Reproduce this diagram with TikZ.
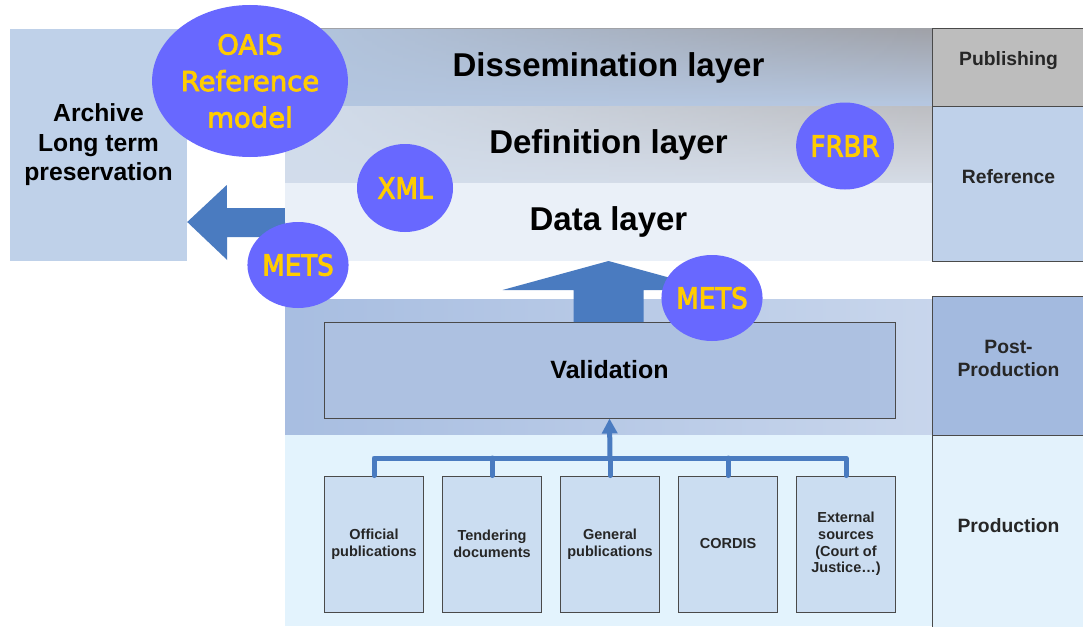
\documentclass[tikz,border=0pt]{standalone}
\usepackage{fontspec}
\setmainfont{Liberation Sans}
\newfontfamily\circfont[FakeBold=3]{DejaVu Sans}
\newfontfamily\circcfont[FakeBold=3]{DejaVu Sans Condensed}
\usetikzlibrary{arrows.meta,shapes.geometric,fadings}
\definecolor{circblue}{HTML}{6868FF}
\definecolor{circtext}{HTML}{FFCC00}
\definecolor{archivebg}{HTML}{BFD1E9}
\definecolor{databg}{HTML}{EAF0F8}
\definecolor{prodbg}{HTML}{E3F3FD}
\definecolor{valbg}{HTML}{ADC1E1}
\definecolor{srcbg}{HTML}{CBDDF1}
\definecolor{pubbg}{HTML}{BDBDBD}
\definecolor{refbg}{HTML}{BFD1EA}
\definecolor{ppbg}{HTML}{A3BADF}
\definecolor{prodlbg}{HTML}{E3F2FC}
\definecolor{arrowblue}{HTML}{4A7BC0}
\definecolor{edge}{HTML}{4A4A4A}
\definecolor{dissleft}{HTML}{B3C6E0}
\definecolor{disstop}{HTML}{A0A2A8}
\definecolor{dissbot}{HTML}{B7C8E2}
\definecolor{defleft}{HTML}{D2DDEC}
\definecolor{deftop}{HTML}{BDBEC2}
\definecolor{defbot}{HTML}{D6DCE6}
\begin{document}
\begin{tikzpicture}[x=1pt,y=-1pt,
  band/.style={rectangle,inner sep=0pt,minimum width=647pt,font=\fontsize{33}{38}\selectfont\bfseries},
  colbox/.style={rectangle,draw=edge,line width=1pt,inner sep=0pt,minimum width=153pt},
  coltext/.style={align=center,font=\fontsize{19.3}{23}\selectfont\bfseries,text=black!85},
  srcbox/.style={rectangle,draw=edge,line width=0.9pt,fill=srcbg,inner sep=0pt,minimum width=99pt,minimum height=136pt,align=center,font=\fontsize{14.5}{16.8}\selectfont\bfseries,text=black!85},
  circ/.style={ellipse,fill=circblue,inner sep=0pt,align=center,text=circtext},
  bigcirc/.style={circ,font=\circfont\fontsize{27.5}{36.5}\selectfont},
  smallcirc/.style={circ,font=\circcfont\fontsize{29}{32}\selectfont},
  fatarrow/.style={fill=arrowblue},
  tree/.style={draw=arrowblue,line width=5pt,line cap=round,line join=round}
]
\useasboundingbox (0,0) rectangle (1083,626);
\fill[white] (0,0) rectangle (1083,626);

% layer band backgrounds (two-way gradients)
\shade[top color=disstop,bottom color=dissbot] (285,29) rectangle (932,106);
\fill[dissleft,path fading=east] (285,29) rectangle (932,106);
\shade[top color=deftop,bottom color=defbot] (285,106) rectangle (932,183);
\fill[defleft,path fading=east] (285,106) rectangle (932,183);

% layer bands
\node[band,minimum height=77pt] (diss) at (608.5,67.5) {Dissemination layer};
\node[band,minimum height=77pt] (defn) at (608.5,144.5) {Definition layer};
\node[band,minimum height=78pt,fill=databg] (data) at (608.5,222) {Data layer};
\node[band,minimum height=136pt,left color=ppbg!95!white,middle color=valbg!65!white,right color=ppbg!60!white] (post) at (608.5,367) {};
\node[band,minimum height=191pt,fill=prodbg] (prod) at (608.5,530.5) {};

% archive
\node[rectangle,fill=archivebg,inner sep=0pt,minimum width=177pt,minimum height=232pt,align=center,
  font=\fontsize{24.7}{29.5}\selectfont\bfseries] (archive) at (98.5,145) {Archive\\Long term\\preservation};

% right column
\node[colbox,fill=pubbg,minimum height=77pt] (pub) at (1008.5,67.5) {};
\node[colbox,fill=refbg,minimum height=155pt] (ref) at (1008.5,183.5) {};
\node[colbox,fill=ppbg,minimum height=139pt] (pp) at (1008.5,365.5) {};
\node[colbox,fill=prodlbg,minimum height=193pt] (prodl) at (1008.5,531.5) {};
\node[coltext,yshift=7pt] (pubt) at (pub) {Publishing};
\node[coltext,yshift=7pt] (reft) at (ref) {Reference};
\node[coltext,yshift=7pt] (ppt) at (pp) {Post-\\Production};
\node[coltext,yshift=6pt] (prodt) at (prodl) {Production};

% validation and sources
\node[rectangle,draw=edge,line width=1pt,fill=valbg,inner sep=0pt,minimum width=571pt,minimum height=96pt,
  font=\fontsize{25}{29}\selectfont\bfseries] (val) at (609.5,370) {Validation};
\node[srcbox] (s1) at (374,544) {Official\\publications};
\node[srcbox] (s2) at (492,544) {Tendering\\documents};
\node[srcbox] (s3) at (610,544) {General\\publications};
\node[srcbox] (s4) at (728,544) {CORDIS};
\node[srcbox] (s5) at (846,544) {External\\sources\\(Court of\\Justice…)};

% tree connectors
\coordinate (hb) at (610,458);
\draw[tree] (s1.north) |- (hb) -| (s5.north);
\draw[tree] (s2.north) -- (s2.north |- hb);
\draw[tree] (s3.north) -- (hb);
\draw[tree] (s4.north) -- (s4.north |- hb);
\draw[tree,line cap=butt,-{Triangle[length=15pt,width=15pt]}] (hb) -- (val.south);

% fat arrow to archive
\fill[fatarrow] ([yshift=14pt]data.west) -- ++(-58,0) -- ++(0,-23) -- (archive.east |- data.west)
  -- ++(40,38) -- ++(0,-23) -- ++(58,0) -- cycle;
% fat arrow up to data layer
\fill[fatarrow] (608.5,261) -- ++(-106,29) -- ++(71,0) -- ([xshift=-35pt]608.5,322) -- ++(70,0)
  -- ++(0,-32) -- ++(71,0) -- cycle;

% circles
\node[bigcirc,minimum width=176pt,minimum height=152pt] (oais) at (250,81) {OAIS\\Reference\\model};
\node[smallcirc,minimum width=96pt,minimum height=88pt] (xml) at (405,188) {XML};
\node[smallcirc,minimum width=96pt,minimum height=87pt] (frbr) at (845,146) {FRBR};
\node[smallcirc,minimum width=98pt,minimum height=86pt] (mets1) at (298,265) {METS};
\node[smallcirc,minimum width=96pt,minimum height=86pt] (mets2) at (712,298) {METS};
\end{tikzpicture}
\end{document}
